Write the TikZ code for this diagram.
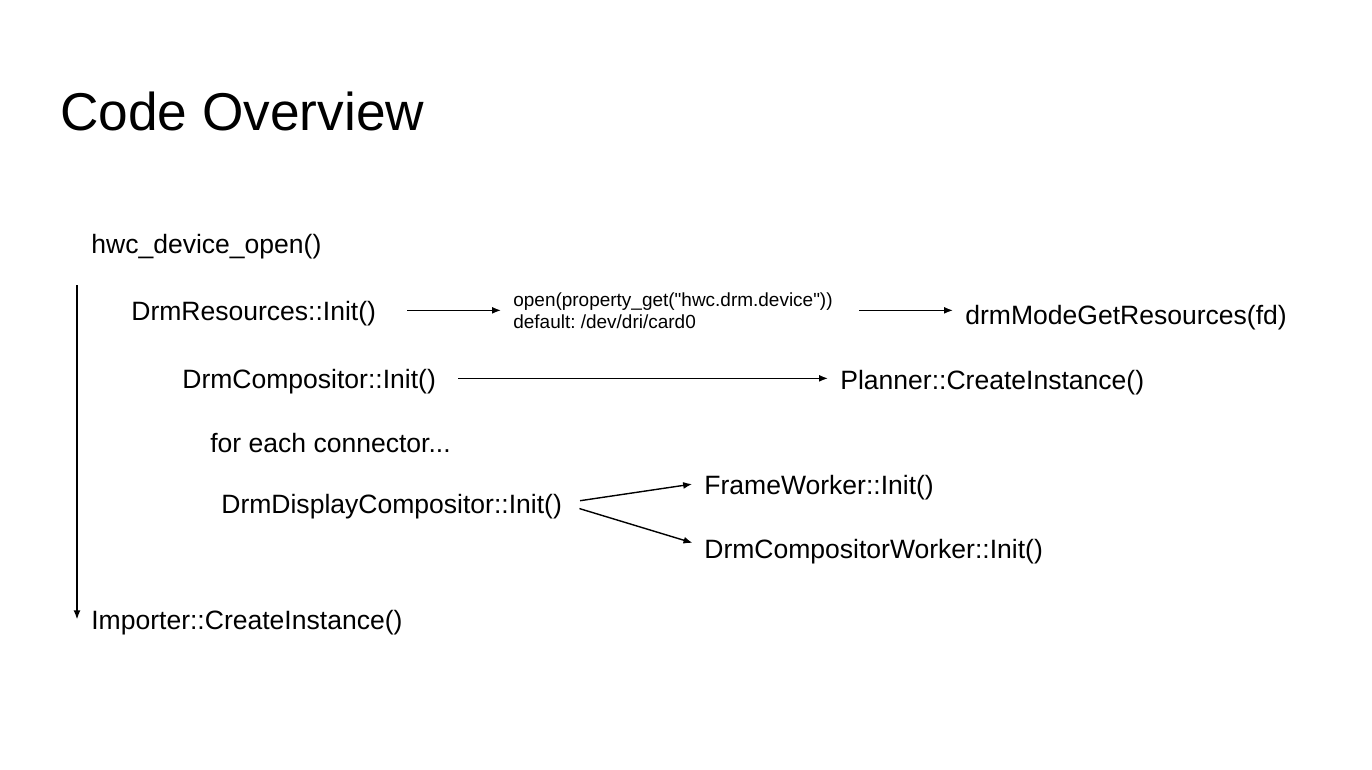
\documentclass[tikz,border=0pt]{standalone}
\usepackage{fontspec}
\setmainfont{Liberation Sans}
\usetikzlibrary{arrows.meta,positioning}
\frenchspacing
\tikzstyle{line} = [draw, -{Latex[length=1.8mm,width=1.4mm]}, line width=0.8pt, shorten >=0.24cm]
\tikzstyle{title} = [anchor=base west, inner sep=0, font=\fontsize{30.3}{36}\selectfont]
\tikzstyle{call} = [anchor=base west, inner sep=0, text height=12pt, text depth=1pt, font=\fontsize{15.1}{18}\selectfont]
\tikzstyle{note} = [anchor=base west, inner sep=0, text height=8.6pt, text depth=0.5pt, font=\fontsize{10.8}{13}\selectfont]

\begin{document}
\begin{tikzpicture}[x=0.02cm, y=-0.02cm]
		\useasboundingbox (0,0) rectangle (1372,769);
		\node[title] (title) at (60,130) {Code Overview};
		
		\node[call] (hwc) at (91,253) {hwc\_device\_open()};
		
		\node[call] (res) at (131,320) {DrmResources::Init()};
		\node[note] (open) at (513,306) {open(property\_get(\textquotedbl hwc.drm.device\textquotedbl))};
		\node[note] (opendef) at (513,328) {default: /dev/dri/card0};
		\node[call] (getres) at (965,324) {drmModeGetResources(fd)};
		\path [line, shorten <=0.62cm] (res.east) to (res.east -| open.west);
		\path [line, shorten <=0.52cm] (open.east |- res.east) to (res.east -| getres.west);
		
		\node[call] (comp) at (182,388) {DrmCompositor::Init()};
		\node[call] (planner) at (840,389) {Planner::CreateInstance()};
		\path [line, shorten <=0.44cm] (comp.east) to (comp.east -| planner.west);
		
		\node[call] (foreach) at (210,452) {for each connector...};
		
		\node[call] (dispcomp) at (221,513) {DrmDisplayCompositor::Init()};
		\node[call] (frame) at (704,494) {FrameWorker::Init()};
		\node[call] (worker) at (704,558) {DrmCompositorWorker::Init()};
		\path [line, shorten <=0.36cm] (dispcomp.east) to ([yshift=0.04cm]frame.west);
		\path [line, shorten <=0.36cm] (dispcomp.east) to ([yshift=0.04cm]worker.west);
		
		\node[call] (importer) at (91,629) {Importer::CreateInstance()};
		\coordinate (flow) at (77,285);
		\path [line, shorten >=0pt] (flow) to (flow |- importer.west);
\end{tikzpicture}
\end{document}
